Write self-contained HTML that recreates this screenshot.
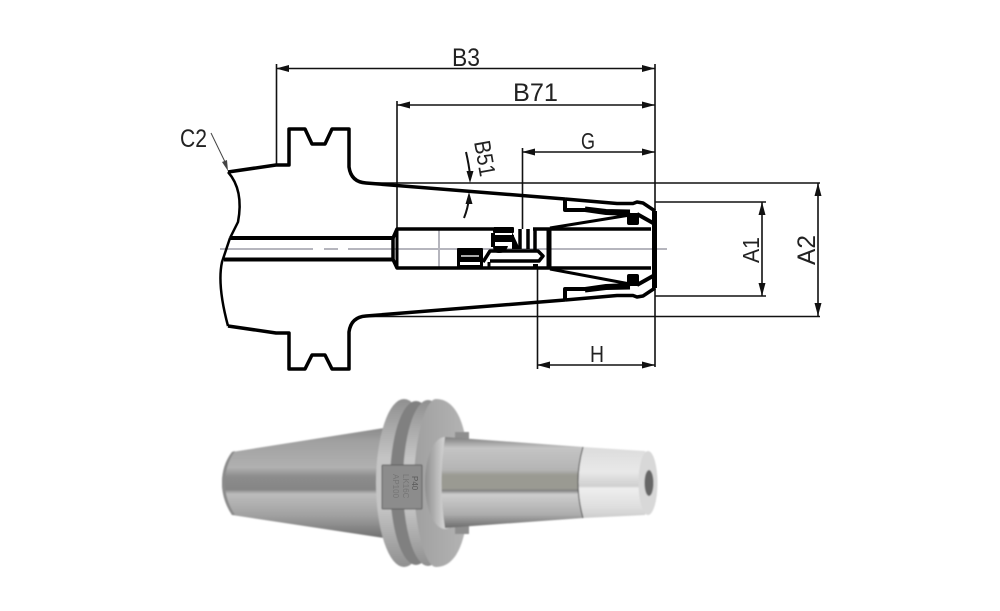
<!DOCTYPE html>
<html><head><meta charset="utf-8"><style>
html,body{margin:0;padding:0;background:#fff;width:1000px;height:611px;overflow:hidden}
svg{display:block}
text{font-family:"Liberation Sans",sans-serif;fill:#222}
</style></head><body>
<svg width="1000" height="611" viewBox="0 0 1000 611" xmlns="http://www.w3.org/2000/svg">
<defs>
<linearGradient id="cone" x1="0" y1="0" x2="0" y2="1">
<stop offset="0" stop-color="#8a8a8a"/><stop offset=".12" stop-color="#a0a0a0"/><stop offset=".36" stop-color="#b0b0b0"/><stop offset=".44" stop-color="#8c8c8c"/><stop offset=".56" stop-color="#858585"/><stop offset=".6" stop-color="#bcbcbc"/><stop offset=".8" stop-color="#a0a0a0"/><stop offset="1" stop-color="#6f6f6f"/>
</linearGradient>
<linearGradient id="shaft" x1="0" y1="0" x2="0" y2="1">
<stop offset="0" stop-color="#7d7d7d"/><stop offset=".12" stop-color="#c4c4c4"/><stop offset=".36" stop-color="#b4b4b4"/><stop offset=".42" stop-color="#9a9a92"/><stop offset=".57" stop-color="#9a9a92"/><stop offset=".585" stop-color="#7d7d7d"/><stop offset=".63" stop-color="#cdcdcd"/><stop offset=".85" stop-color="#adadad"/><stop offset="1" stop-color="#6a6a6a"/>
</linearGradient>
<linearGradient id="nose" x1="0" y1="0" x2="0" y2="1">
<stop offset="0" stop-color="#dcdcdc"/><stop offset=".35" stop-color="#e8e8e8"/><stop offset=".55" stop-color="#cfcfcf"/><stop offset=".58" stop-color="#eeeeee"/><stop offset=".85" stop-color="#dedede"/><stop offset="1" stop-color="#cccccc"/>
</linearGradient>
<linearGradient id="ring" x1="0" y1="0" x2="0" y2="1">
<stop offset="0" stop-color="#8f8f8f"/><stop offset=".35" stop-color="#c4c4c4"/><stop offset=".65" stop-color="#c4c4c4"/><stop offset="1" stop-color="#8f8f8f"/>
</linearGradient>
<linearGradient id="face" x1="0" y1="0" x2="1" y2="0">
<stop offset="0" stop-color="#a0a0a0"/><stop offset="1" stop-color="#b4b4b4"/>
</linearGradient>
<linearGradient id="fillet" x1="0" y1="0" x2="1" y2="0">
<stop offset="0" stop-color="#8e8e8e"/><stop offset=".5" stop-color="#d6d6d6"/><stop offset="1" stop-color="#a8a8a8"/>
</linearGradient>
<filter id="b"><feGaussianBlur stdDeviation=".7"/></filter>
</defs>

<!-- centre lines -->
<g stroke="#b5b5bd" stroke-width="2" fill="none">
<path d="M220 249H313M324 249H338M348 249H392M392 249H667"/>
<path d="M439 229V268"/>
</g>

<!-- dimension lines -->
<g stroke="#111" stroke-width="1.6" fill="none">
<path d="M276.500 64V164M397 101V229M655 64V367M522.500 148V229M537.500 268V369"/>
<path d="M276 68.500H655M397 105H655M522 152H655M537 365H655"/>
<path d="M363 183H820M655 202H766M655 296H766M363 316.500H820"/>
<path d="M762 202V296M818 183V316"/>
</g>
<g fill="#111">
<path d="M276 68.500L289 65V72ZM655 68.500L642 65V72Z"/>
<path d="M397 105L410 101.500V108.500ZM655 105L642 101.500V108.500Z"/>
<path d="M522 152L535 148.500V155.500ZM655 152L642 148.500V155.500Z"/>
<path d="M537 365L550 361.500V368.500ZM655 365L642 361.500V368.500Z"/>
<path d="M762 202L758.500 215H765.500ZM762 296L758.500 283H765.500Z"/>
<path d="M818 183L814.500 196H821.500ZM818 316L814.500 303H821.500Z"/>
<path d="M470 183L466.500 171H473.500ZM469 192L465.500 204H472.500Z"/>
<path d="M228 171L222 162L227 160Z" fill="#444"/>
</g>
<path d="M211 133L227 166" stroke="#444" stroke-width="1" fill="none"/>
<path d="M466 152Q469 165 470 175M469 198Q468 208 464 218" stroke="#111" stroke-width="2" fill="none"/>

<!-- thick outline -->
<g stroke="#000" fill="none" stroke-linejoin="round">
<path stroke-width="3.500" d="M228 172L276 165H289V129H305L312 144H325L332 129H349V167Q351 182 366 183L565 199"/>
<path stroke-width="3.500" d="M228 326L276 333H289V369H305L312 355H325L332 369H349V332Q351 317 366 316L565 300"/>
<path stroke-width="2.500" d="M228 172Q244 190 238 222L230 238"/>
<path stroke-width="2.500" d="M230 238L222 262Q217 285 228 326"/>
<path stroke-width="4" d="M230 238H393M224 259.500H393"/>
<!-- bore -->
<path stroke-width="3.500" d="M393 238L397 229H493M393 259.500L397 268H651"/>
<path stroke-width="3.500" d="M393 238V259.500"/>
<path stroke-width="3" d="M397 229V268"/>
<path stroke-width="3.500" d="M533 229H651"/>
<path stroke-width="5" d="M549 229V268"/>
<path stroke-width="3.500" d="M535 229V250"/>
<!-- upper nut -->
<path stroke-width="4" d="M565 199V210H585L606 213L630 214"/>
<path stroke-width="3.500" d="M565 199L617 203.500H633L637 202L643 203L655 211"/>
<path stroke-width="4" d="M637 214L653 223"/>
<path stroke-width="3" d="M550 228L630 215"/>
<path stroke-width="5" d="M585 209L606 211.500L630 212"/>
<!-- lower nut -->
<path stroke-width="4" d="M565 300V289H585L606 286L630 285"/>
<path stroke-width="3.500" d="M565 300L617 295.500H633L637 297L643 296L655 288"/>
<path stroke-width="4" d="M637 285L653 276"/>
<path stroke-width="3" d="M550 269L630 284"/>
<path stroke-width="5" d="M585 290L606 287.500L630 287"/>
<path stroke-width="5" d="M654.500 211V288"/>
<!-- internals -->
<path stroke-width="3.500" d="M483 262L490 251H538L543 256L539 261H490"/>
<path stroke-width="3" d="M489 267V262"/>
<path stroke-width="3.500" d="M520 229V249M528 229V249"/>
</g>
<g fill="#000">
<rect x="627" y="213" width="12" height="12" rx="2"/>
<rect x="627" y="274" width="12" height="12" rx="2"/>
<rect x="493" y="227" width="21" height="6" rx="1"/>
<rect x="491" y="233" width="4" height="14"/>
<rect x="494" y="235" width="20" height="7"/>
<rect x="457" y="248" width="26" height="20" rx="1"/>
<path d="M493 246h15q-2 7-9 7q-6 0-6-7Z"/>
<path d="M512 232l8 17h-8Z"/>
<rect x="533" y="264" width="5" height="5"/>
</g>
<rect x="461" y="255" width="18" height="2" fill="#aaa"/>
<rect x="460" y="262" width="20" height="3" fill="#fff"/>
<rect x="496" y="233" width="16" height="2" fill="#fff"/>
<rect x="495" y="242" width="10" height="3" fill="#fff"/>

<!-- labels -->
<text x="452" y="66" font-size="25" textLength="28" lengthAdjust="spacingAndGlyphs">B3</text>
<text x="513" y="101" font-size="25" textLength="45" lengthAdjust="spacingAndGlyphs">B71</text>
<text x="581" y="149" font-size="23" textLength="14" lengthAdjust="spacingAndGlyphs">G</text>
<text x="590" y="362" font-size="23" textLength="14" lengthAdjust="spacingAndGlyphs">H</text>
<text x="180" y="147" font-size="25" textLength="27" lengthAdjust="spacingAndGlyphs">C2</text>
<text transform="translate(474 142) rotate(80)" font-size="23" textLength="36" lengthAdjust="spacingAndGlyphs">B51</text>
<text transform="translate(759 263) rotate(-90)" font-size="23" textLength="26" lengthAdjust="spacingAndGlyphs">A1</text>
<text transform="translate(815 265) rotate(-90)" font-size="25" textLength="30" lengthAdjust="spacingAndGlyphs">A2</text>

<!-- photo -->
<g filter="url(#b)">
<path d="M232 452L384 428V538L232 515Q222 500 222 483Q222 465 232 452Z" fill="url(#cone)"/>
<path d="M232 452Q222 465 222 483Q222 500 232 515L235 515Q225 500 225 483Q225 465 235 451Z" fill="#8a8a8a"/>
<!-- flange -->
<ellipse cx="404" cy="483" rx="28" ry="84" fill="url(#ring)"/>
<ellipse cx="416" cy="483" rx="26" ry="82" fill="#808080"/>
<ellipse cx="428" cy="483" rx="25" ry="83" fill="url(#ring)"/>
<path d="M436 399C462 399 469 440 469 483C469 526 462 567 436 567C424 567 414 520 414 483C414 446 424 399 436 399Z" fill="url(#face)"/>
<rect x="455" y="432" width="14" height="10" fill="#8e8e8e"/>
<rect x="455" y="524" width="14" height="10" fill="#8e8e8e"/>
<!-- fillet -->
<ellipse cx="445" cy="483" rx="20" ry="46" fill="url(#fillet)"/>
<!-- shaft -->
<path d="M445 437L583 447Q573 482 583 518L445 528Q438 483 445 437Z" fill="url(#shaft)"/>
<path d="M583 447L645 451Q657 483 645 515L583 518Q573 482 583 447Z" fill="url(#nose)"/>
<path d="M583 447Q573 482 583 518" fill="none" stroke="#444" stroke-width="1"/>
<ellipse cx="648" cy="483" rx="9.500" ry="32" fill="#d8d8d8"/>
<ellipse cx="649" cy="483" rx="4.500" ry="13" fill="#666"/>
<!-- block -->
<rect x="382" y="465" width="40" height="44" rx="1" fill="#8c8c8c" stroke="#5a5a5a" stroke-width="1"/>
</g>
<g transform="translate(412 476) rotate(90)" font-size="8">
<text x="0" y="0" style="fill:#5a5a5a">P40</text>
<text x="-2" y="9" style="fill:#767676">LK16C</text>
<text x="-2" y="19" style="fill:#767676">AP100</text>
</g>
</svg>
</body></html>
